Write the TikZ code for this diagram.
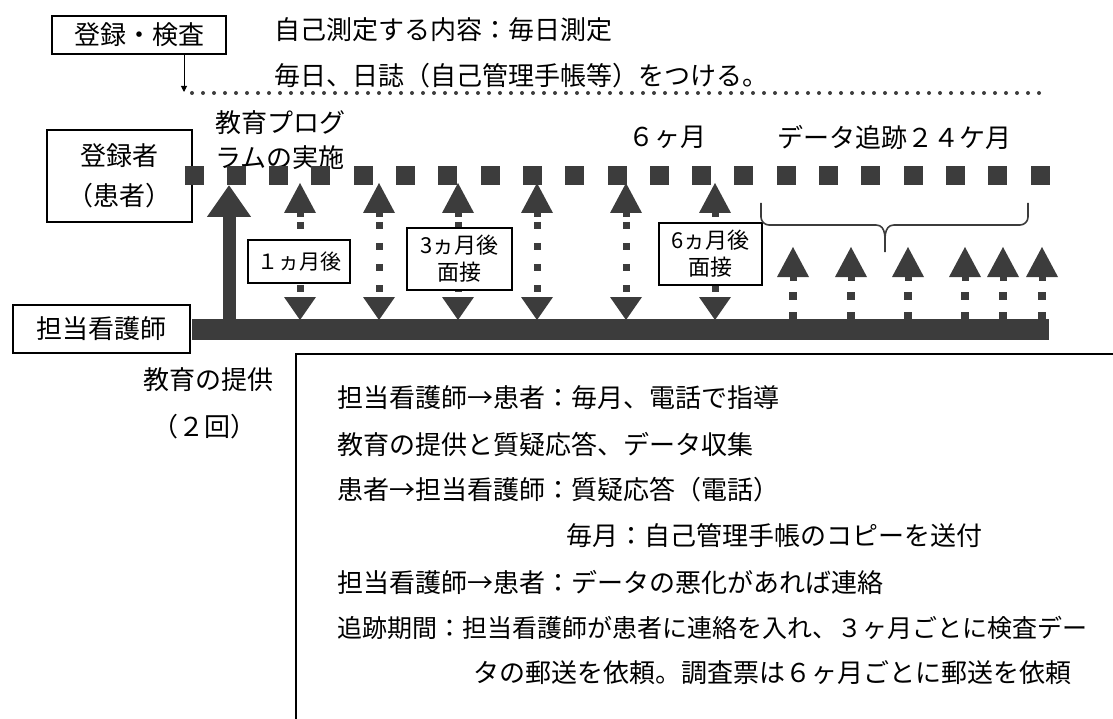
\documentclass[tikz,border=0pt]{standalone}
\usepackage{fontspec}
\newfontfamily\jp{Noto Sans CJK JP}
\usetikzlibrary{arrows.meta}
\definecolor{dk}{HTML}{3C3C3C}
\begin{document}
\begin{tikzpicture}[x=1pt,y=-1pt,
  txt/.style={font=\jp\fontsize{26}{30}\selectfont, inner sep=0pt},
  stxt/.style={font=\jp\fontsize{22}{27}\selectfont, inner sep=0pt},
  frame/.style={draw, line width=1.4pt, fill=white, inner sep=0pt},
  sq/.style={fill=dk, minimum size=19pt, inner sep=0pt},
  dstem/.style={draw=dk, line width=7pt, dash pattern=on 7pt off 14pt},
  rstem/.style={draw=dk, line width=8pt, dash pattern=on 8pt off 12pt},
  dotline/.style={draw=dk, line width=4pt, dash pattern=on 0pt off 11pt, line cap=round},
  brace/.style={draw=dk, line width=1.6pt},
]
\useasboundingbox (0,0) rectangle (1113,719);

% top part
\node[frame, txt, minimum width=174pt, minimum height=38pt] (reg) at (139,35) {登録・検査};
\coordinate (ar) at (184,92);
\coordinate (dl) at (192,93);
\coordinate (dr) at (1040,93);
\draw[line width=1pt, -{Triangle[width=6pt,length=6pt]}] (reg.south -| ar) -- (ar);
\draw[dotline] (dl) -- (dr);
\node[txt, anchor=west] (t1) at (274,30) {自己測定する内容：毎日測定};
\node[txt, anchor=west] (t2) at (274,76) {毎日、日誌（自己管理手帳等）をつける。};

% labels above the row
\node[txt, anchor=west] (edu1) at (215,123) {教育プログ};
\node[txt, anchor=west] (edu2) at (215,158) {ラムの実施};
\node[txt, anchor=west] (six) at (628,137) {６ヶ月};
\node[txt, anchor=west] (trk) at (777,137) {データ追跡２４ケ月};

% actor boxes
\node[frame, txt, minimum width=145pt, minimum height=92pt, align=center] (pat) at (119.5,176) {登録者\\[10pt]（患者）};
\node[frame, txt, minimum width=177pt, minimum height=48pt] (nur) at (101.5,329) {担当看護師};

% patient timeline (squares)
\foreach \i in {0,...,20} \node[sq] (s\i) at ({194+42.3*\i},176) {};

% nurse timeline (bar)
\node[fill=dk, minimum width=857pt, minimum height=21pt, inner sep=0pt, anchor=west] (bar) at (192,329.5) {};

% main arrow: education programme
\coordinate (m0) at (229,320);
\coordinate (m1) at (229,185);
\draw[dk, line width=13pt, -{Triangle[width=42pt,length=32pt]}] (m0) -- (m1);

% dotted two-way arrows
\foreach \x in {300,379,458,537,626,715} {
  \fill[dk] (\x-16,213) -- (\x,183) -- (\x+16,213) -- cycle;
  \fill[dk] (\x-3.5,212) rectangle (\x+3.5,217);
  \draw[dstem] (\x,222) -- (\x,297);
  \fill[dk] (\x-16,297) -- (\x+16,297) -- (\x,320) -- cycle;
}

% interview boxes
\node[frame, txt, font=\jp\fontsize{21}{25}\selectfont, minimum width=102pt, minimum height=43pt] (b1) at (299,261.5) {１ヵ月後};
\node[frame, stxt, minimum width=105pt, minimum height=62pt, align=center] (b3) at (459.5,259) {3ヵ月後\\面接};
\node[frame, stxt, minimum width=103pt, minimum height=62pt, align=center] (b6) at (710.5,254) {6ヵ月後\\面接};

% follow-up arrows
\foreach \x in {793,851,908,965,1003,1042} {
  \fill[dk] (\x-16,277) -- (\x,247) -- (\x+16,277) -- cycle;
  \fill[dk] (\x-3.5,276) rectangle (\x+3.5,281);
  \draw[rstem] (\x,292) -- (\x,320);
}

% brace
\draw[brace] (761,203) -- (761,217) to[out=-90,in=180] (769,225) -- (876,225)
  to[out=0,in=90] (885,252);
\draw[brace] (885,252) to[out=90,in=180] (894,225) -- (1020,225)
  to[out=0,in=-90] (1028,217) -- (1028,203);

% lower left labels
\node[txt, anchor=west] (prov) at (143,380) {教育の提供};
\node[txt, anchor=east] (two) at (257,427) {（２回）};

% text box
\draw[line width=1.3pt] (1113,354) -- (296,354) -- (296,719);
\node[txt, anchor=west] (l1) at (337,398) {担当看護師→患者：毎月、電話で指導};
\node[txt, anchor=west] (l2) at (337,444) {教育の提供と質疑応答、データ収集};
\node[txt, anchor=west] (l3) at (337,490) {患者→担当看護師：質疑応答（電話）};
\node[txt, anchor=west] (l4) at (566,536) {毎月：自己管理手帳のコピーを送付};
\node[txt, anchor=west] (l5) at (337,582) {担当看護師→患者：データの悪化があれば連絡};
\node[txt, font=\jp\fontsize{25}{30}\selectfont, anchor=west] (l6) at (337,628) {追跡期間：担当看護師が患者に連絡を入れ、３ヶ月ごとに検査デー};
\node[txt, anchor=west] (l7) at (473,673) {タの郵送を依頼。調査票は６ヶ月ごとに郵送を依頼};
\end{tikzpicture}
\end{document}
